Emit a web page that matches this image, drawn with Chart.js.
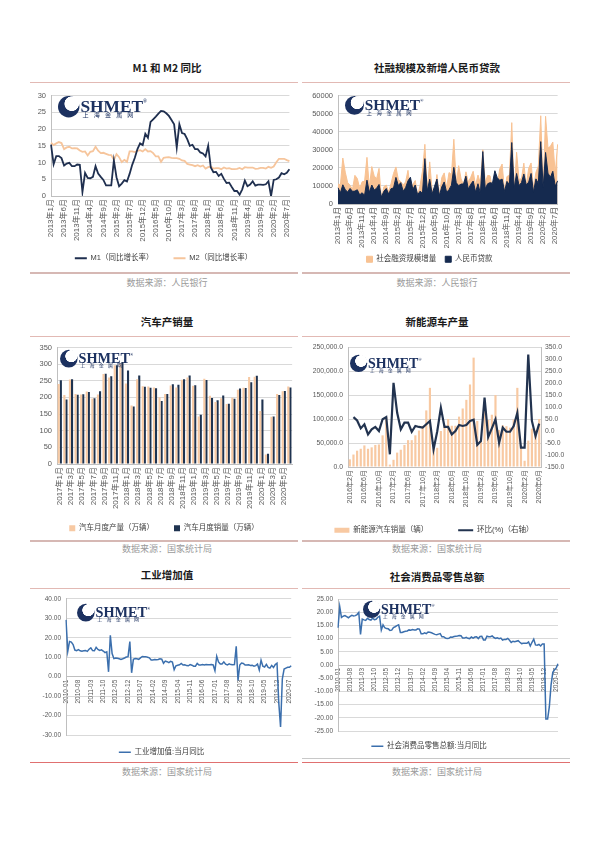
<!DOCTYPE html>
<html>
<head>
<meta charset="utf-8">
<script src="https://cdn.jsdelivr.net/npm/chart.js@4.4.0/dist/chart.umd.min.js"></script>
<style>
  body { margin: 0; background: #fff; font-family: "Liberation Sans", "Noto Sans CJK SC", sans-serif; }
  #page { position: relative; width: 600px; height: 848px; overflow: hidden; }
  .title { position: absolute; width: 270px; text-align: center; font: bold 10.5px/14px "Noto Sans CJK SC", sans-serif; color: #1a1a1a; }
  .src { position: absolute; width: 270px; text-align: center; font: 9px/12px "Noto Sans CJK SC", sans-serif; color: #9a9a9a; }
  .rule { position: absolute; }
  .box { position: absolute; }
  .logo { position: absolute; width: 84px; height: 24px; transform-origin: 0 0; pointer-events: none; }
  .logo .ball { position: absolute; left: 0; top: 1px; width: 21px; height: 21px; border-radius: 50%;
    background: radial-gradient(circle at 64% 36%, #fff 0 36%, #1c3160 39%); }
  .logo .word { position: absolute; left: 22px; top: -3px; font: bold 17px/20px "Liberation Serif", serif; color: #1c3160; }
  .logo .word sup { font-size: 5px; vertical-align: 9px; }
  .logo .sub { position: absolute; left: 24px; top: 16px; font: 6px/7px "Noto Sans CJK SC", sans-serif; color: #1c3160; letter-spacing: 5px; }
</style>
</head>
<body>
<div id="page">
  <div class="title" style="left:32px;top:61px">M1 和 M2 同比</div>
  <div class="title" style="left:302px;top:61px">社融规模及新增人民币贷款</div>
  <div class="title" style="left:32px;top:315px">汽车产销量</div>
  <div class="title" style="left:302px;top:315px">新能源车产量</div>
  <div class="title" style="left:32px;top:568px">工业增加值</div>
  <div class="title" style="left:302px;top:570px">社会消费品零售总额</div>

  <div class="rule" style="left:30px;top:82px;width:268px;height:1px;background:#e2b9b4"></div>
  <div class="rule" style="left:302px;top:82px;width:268px;height:1px;background:#e2b9b4"></div>
  <div class="rule" style="left:30px;top:272px;width:268px;height:2px;background:#d6b8b4"></div>
  <div class="rule" style="left:302px;top:272px;width:268px;height:2px;background:#d6b8b4"></div>
  <div class="rule" style="left:30px;top:336px;width:268px;height:1px;background:#e2b9b4"></div>
  <div class="rule" style="left:302px;top:336px;width:268px;height:1px;background:#e2b9b4"></div>
  <div class="rule" style="left:30px;top:540px;width:268px;height:2px;background:#d6b8b4"></div>
  <div class="rule" style="left:302px;top:540px;width:268px;height:2px;background:#d6b8b4"></div>
  <div class="rule" style="left:30px;top:588px;width:268px;height:1px;background:#e2b9b4"></div>
  <div class="rule" style="left:302px;top:588px;width:268px;height:1px;background:#e2b9b4"></div>
  <div class="rule" style="left:302px;top:758px;width:268px;height:1px;background:#c8c8c8"></div>
  <div class="rule" style="left:30px;top:762px;width:268px;height:1px;background:#e07070"></div>
  <div class="rule" style="left:302px;top:762px;width:268px;height:1px;background:#e07070"></div>

  <div class="src" style="left:32px;top:277px">数据来源：人民银行</div>
  <div class="src" style="left:302px;top:277px">数据来源：人民银行</div>
  <div class="src" style="left:32px;top:543px">数据来源：国家统计局</div>
  <div class="src" style="left:302px;top:543px">数据来源：国家统计局</div>
  <div class="src" style="left:32px;top:766px">数据来源：国家统计局</div>
  <div class="src" style="left:302px;top:766px">数据来源：国家统计局</div>

  <div class="box" style="left:30px;top:86px;width:272px;height:190px"><canvas id="c1"></canvas></div>
  <div class="box" style="left:300px;top:86px;width:270px;height:190px"><canvas id="c2"></canvas></div>
  <div class="box" style="left:30px;top:338px;width:272px;height:205px"><canvas id="c3"></canvas></div>
  <div class="box" style="left:300px;top:338px;width:270px;height:206px"><canvas id="c4"></canvas></div>
  <div class="box" style="left:30px;top:590px;width:272px;height:178px"><canvas id="c5"></canvas></div>
  <div class="box" style="left:300px;top:590px;width:270px;height:178px"><canvas id="c6"></canvas></div>
</div>
<script>
// month labels for the category axes
function months(y0, m0, y1, m1, iso) {
  const out = [];
  for (let y = y0, m = m0; y < y1 || (y === y1 && m <= m1); m === 12 ? (y++, m = 1) : m++) {
    out.push(iso ? y + '-' + String(m).padStart(2, '0') : y + '年' + m + '月');
  }
  return out;
}

// M1 / M2 同比 (%), 2013-01 .. 2020-08
const moneyMonths = months(2013, 1, 2020, 8);
const m1Yoy = [
  15.3, 9.5, 11.9, 11.9, 11.3, 9.1, 9.7, 9.9, 8.9, 8.9, 9.4, 9.3,
  1.2, 6.9, 5.4, 5.3, 5.7, 8.9, 6.7, 5.7, 4.8, 3.2, 3.2, 3.2,
  10.6, 5.6, 2.9, 3.7, 4.7, 4.3, 6.6, 9.3, 11.4, 14.0, 15.7, 15.2,
  18.6, 17.4, 22.1, 22.9, 23.7, 24.6, 25.4, 25.3, 24.7, 23.9, 22.7, 21.4,
  14.5, 21.4, 18.8, 18.5, 17.0, 15.0, 15.3, 14.0, 14.0, 13.0, 12.7, 11.8,
  15.0, 8.5, 7.1, 7.2, 6.0, 6.6, 5.1, 3.9, 4.0, 2.7, 1.5, 1.5,
  0.4, 2.0, 4.6, 2.9, 3.4, 4.4, 3.1, 3.4, 3.4, 3.3, 3.5, 4.4,
  0.0, 4.8, 5.0, 5.5, 6.8, 6.5, 6.9, 8.0
];
const m2Yoy = [
  15.9, 15.2, 15.7, 16.1, 15.8, 14.0, 14.5, 14.7, 14.2, 14.3, 14.2, 13.6,
  13.2, 13.3, 12.1, 13.2, 13.4, 14.7, 13.5, 12.8, 12.9, 12.6, 12.3, 12.2,
  10.8, 12.5, 11.6, 10.1, 10.8, 10.2, 13.3, 13.3, 13.1, 13.5, 13.7, 13.3,
  14.0, 13.3, 13.4, 12.8, 11.8, 11.8, 10.2, 11.4, 11.5, 11.6, 11.4, 11.3,
  11.3, 11.1, 10.6, 10.5, 9.6, 9.4, 9.2, 8.9, 9.2, 8.8, 9.1, 8.2,
  8.6, 8.8, 8.2, 8.3, 8.3, 8.0, 8.5, 8.2, 8.3, 8.0, 8.0, 8.1,
  8.4, 8.0, 8.6, 8.5, 8.5, 8.5, 8.1, 8.2, 8.4, 8.4, 8.2, 8.7,
  8.4, 8.8, 10.1, 11.1, 11.1, 11.1, 10.7, 10.4
];

// 社融增量 / 新增人民币贷款 (亿元), same months
const tsfFlow = [
  11000, 10705, 25445, 17629, 11856, 10375, 8191, 15841, 14120, 8645, 12310, 12532,
  25800, 9387, 20700, 15500, 14000, 19700, 2731, 9577, 10500, 6635, 11459, 16900,
  20500, 13600, 12400, 10500, 12200, 18600, 7188, 10800, 13000, 4767, 10200, 18200,
  33000, 7802, 23300, 7510, 6599, 16300, 4879, 14700, 17200, 8963, 17400, 16300,
  35800, 11500, 21200, 13900, 10600, 17800, 12200, 14800, 18100, 10400, 16000, 11400,
  30000, 11700, 15800, 15600, 7608, 11800, 10400, 19400, 22100, 7288, 15200, 15900,
  45000, 7030, 28600, 13600, 14000, 22600, 10100, 19800, 22700, 8771, 17500, 21000,
  48800, 8554, 48500, 30900, 31900, 34300, 16900, 33000
];
const rmbLoans = [
  9000, 6200, 10625, 7929, 6674, 8605, 6999, 7135, 7870, 5061, 6246, 4825,
  13200, 6445, 10500, 7747, 8708, 10800, 3852, 7025, 8572, 5483, 8527, 8834,
  14700, 10200, 11800, 7079, 9008, 12800, 14800, 8096, 10500, 5136, 7089, 5978,
  25100, 7266, 13700, 5556, 9855, 13800, 4636, 9487, 12200, 6513, 7946, 10400,
  20300, 11700, 10200, 11000, 11100, 15400, 8255, 10900, 12700, 6632, 11200, 5844,
  29000, 8393, 11200, 11800, 11500, 18400, 14500, 13100, 13800, 6970, 12500, 10800,
  34000, 8858, 16900, 10200, 11800, 16600, 10600, 12100, 16900, 6613, 13900, 11400,
  34500, 9057, 28500, 17000, 14800, 18100, 9927, 12800
];

// 汽车月度产量 / 销量 (万辆), 2017-01 .. 2020-06
const carMonths = months(2017, 1, 2020, 6);
const carOutput = [
  240.6, 207.6, 254.2, 210.3, 208.7, 218.0, 196.6, 209.1, 270.6, 260.1, 296.7, 302.2,
  241.8, 175.8, 254.5, 233.9, 233.2, 229.5, 200.6, 210.6, 235.8, 229.5, 253.0, 259.6,
  235.0, 142.7, 255.8, 205.2, 186.3, 197.6, 180.3, 199.2, 223.4, 229.1, 261.6, 262.2,
  159.5, 28.5, 142.2, 210.2, 218.7, 232.5
];
const carSales = [
  251.5, 193.9, 254.4, 208.4, 209.6, 216.6, 197.3, 218.6, 271.3, 263.9, 296.5, 306.2,
  281.0, 172.5, 265.6, 231.9, 228.8, 227.4, 188.9, 210.3, 239.4, 238.0, 254.8, 266.1,
  236.7, 148.2, 252.0, 198.0, 191.3, 205.6, 180.8, 195.8, 227.1, 228.4, 245.9, 265.5,
  194.1, 31.0, 143.0, 207.0, 219.4, 230.0
];

// 新能源汽车 (辆) and 环比 (%), 2016-02 .. 2020-06
const nevMonths = months(2016, 2, 2020, 6);
const nevSales = [
  16000, 26000, 34000, 38000, 45000, 38000, 41000, 46000, 47000, 66000, 104000,
  5000, 15000, 30000, 36000, 46000, 56000, 56000, 66000, 76000, 86000, 118000, 165000,
  40000, 40000, 75000, 88000, 100000, 86000, 86000, 105000, 122000, 140000, 172000, 228000,
  96000, 56000, 130000, 98000, 109000, 150000, 77000, 87000, 85000, 82000, 99000, 165000,
  45000, 13000, 55000, 80000, 76000, 100000
];
const nevMoM = [
  null, 58, 44, 11, 28, -14, 7, 17, 0, 49, 58,
  -97, 201, 76, 7, 35, 35, -3, 21, 17, 14, 28, 42,
  -76, -2, 97, 17, 17, -14, 0, 25, 21, 25, 42, 47,
  -58, -42, 139, -25, 11, 49, -49, 14, -3, -3, 21, 76,
  -69, -69, 319, 42, -21, 31
];

// 工业增加值 / 社零 当月同比 (%), 2010-01 .. 2020-08
const macroMonths = months(2010, 1, 2020, 8, true);
const ivaYoy = [
  29.2, 13.0, 18.1, 17.8, 16.5, 13.7, 13.4, 13.9, 13.3, 13.1, 13.3, 13.5,
  13.0, 14.1, 14.8, 13.4, 13.3, 15.1, 14.0, 13.5, 13.8, 13.2, 12.4, 12.8,
  2.5, 21.3, 11.9, 9.3, 9.6, 9.5, 9.2, 8.9, 9.2, 9.6, 10.1, 10.3,
  18.1, 2.0, 8.9, 9.3, 9.2, 8.9, 9.7, 10.4, 10.2, 10.3, 10.0, 9.7,
  8.6, 8.6, 8.8, 8.7, 8.8, 9.2, 9.0, 6.9, 8.0, 7.7, 7.2, 7.9,
  7.5, 3.6, 5.6, 5.9, 6.1, 6.8, 6.0, 6.1, 5.7, 5.6, 6.2, 5.9,
  5.4, 5.4, 6.8, 6.0, 6.0, 6.2, 6.0, 6.3, 6.1, 6.1, 6.2, 6.0,
  3.1, 10.5, 7.6, 6.5, 6.5, 7.6, 6.4, 6.0, 6.6, 6.2, 6.1, 6.2,
  15.6, -1.9, 6.0, 7.0, 6.8, 6.0, 6.0, 6.1, 5.8, 5.9, 5.4, 5.7,
  6.5, 3.4, 8.5, 5.4, 5.0, 6.3, 4.8, 4.4, 5.8, 4.7, 6.2, 6.9,
  -13.5, -25.9, -1.1, 3.9, 4.4, 4.8, 4.8, 5.6
];
const retailYoy = [
  14.1, 22.1, 18.0, 18.5, 18.7, 18.3, 17.9, 18.4, 18.8, 18.6, 18.7, 19.1,
  19.9, 11.6, 17.4, 17.1, 16.9, 17.7, 17.2, 17.0, 17.7, 17.2, 17.3, 18.1,
  18.5, 13.2, 15.2, 14.1, 13.8, 13.7, 13.1, 13.2, 14.2, 14.5, 14.9, 15.2,
  12.3, 12.3, 12.6, 12.8, 12.9, 13.3, 13.2, 13.4, 13.3, 13.3, 13.7, 13.6,
  11.8, 11.8, 12.2, 11.9, 12.5, 12.4, 12.2, 11.9, 11.6, 11.5, 11.7, 11.9,
  10.7, 10.7, 10.2, 10.0, 10.1, 10.6, 10.5, 10.8, 10.9, 11.0, 11.2, 11.1,
  10.2, 10.2, 10.5, 10.1, 10.0, 10.6, 10.2, 10.6, 10.7, 10.0, 10.8, 10.9,
  9.5, 9.5, 10.9, 10.7, 10.7, 11.0, 10.4, 10.1, 10.3, 10.0, 10.2, 9.4,
  9.7, 9.7, 10.1, 9.4, 8.5, 9.0, 8.8, 9.0, 9.2, 8.6, 8.1, 8.2,
  8.2, 8.2, 8.7, 7.2, 8.6, 9.8, 7.6, 7.5, 7.8, 7.2, 8.0, 8.0,
  -20.5, -20.5, -15.8, -7.5, -2.8, -1.8, -1.1, 0.5
];

Chart.defaults.font.family = '"Liberation Sans", "Noto Sans CJK SC", sans-serif';
Chart.defaults.animation = false;
Chart.defaults.plugins.tooltip.enabled = false;

const tickColor = '#595959', gridColor = '#d9d9d9', axisColor = '#bfbfbf';
const navy = '#1f2f4f', peach = '#f6c59c', blue = '#3b6fad';

function xAxis(every, height, size) {
  return {
    grid: { display: false, drawTicks: false },
    border: { display: true, color: axisColor },
    ticks: {
      autoSkip: false, maxRotation: 90, minRotation: 90, padding: 3,
      color: tickColor, font: { size: size },
      callback(v, i) { return i % every === 0 ? this.getLabelForValue(v) : ''; }
    },
    afterFit(s) {
      s.height = height;
      // the rotated labels are longer than the box; don't clip them to it
      s._computeLabelArea = () => undefined;
    }
  };
}
function yAxis(min, max, step, width, fmt, size) {
  return {
    min: min, max: max,
    grid: { color: gridColor, drawTicks: false },
    border: { display: true, color: axisColor },
    ticks: { stepSize: step, padding: 5, color: tickColor, font: { size: size }, callback: fmt },
    afterFit(s) { s.width = width; }
  };
}
function legend(labels) {
  return {
    position: 'bottom',
    labels: Object.assign({ color: '#404040', font: { size: 7.5 } }, labels)
  };
}
const bySet = (a, b) => a.datasetIndex - b.datasetIndex;

// M1 和 M2 同比
new Chart(document.getElementById('c1'), {
  type: 'line',
  data: {
    labels: moneyMonths,
    datasets: [
      { label: 'M1（同比增长率）', data: m1Yoy, borderColor: navy, backgroundColor: navy, borderWidth: 1.8, pointRadius: 0 },
      { label: 'M2（同比增长率）', data: m2Yoy, borderColor: peach, backgroundColor: peach, borderWidth: 1.8, pointRadius: 0 }
    ]
  },
  options: {
    responsive: true, maintainAspectRatio: false,
    layout: { padding: { left: 0, right: 5, top: 7, bottom: 4 } },
    scales: {
      x: xAxis(5, 38.5, 8),
      y: yAxis(0, 30, 5, 21, v => v, 7.5)
    },
    plugins: { legend: legend({ usePointStyle: true, pointStyle: 'line', pointStyleWidth: 12, padding: 20 }) }
  }
});

// 社融规模及新增人民币贷款
new Chart(document.getElementById('c2'), {
  type: 'line',
  data: {
    labels: moneyMonths,
    datasets: [
      { label: '社会融资规模增量', data: tsfFlow, fill: 'origin', order: 2,
        backgroundColor: '#f8c293', borderColor: '#f8c293', borderWidth: 1, pointRadius: 0 },
      { label: '人民币贷款', data: rmbLoans, fill: 'origin', order: 1,
        backgroundColor: '#152a4f', borderColor: '#152a4f', borderWidth: 1, pointRadius: 0 }
    ]
  },
  options: {
    responsive: true, maintainAspectRatio: false,
    layout: { padding: { left: 0, right: 11, top: 5, bottom: 3 } },
    scales: {
      x: xAxis(5, 42.5, 7.8),
      y: yAxis(0, 60000, 10000, 38, v => v, 7.5)
    },
    plugins: { legend: legend({ boxWidth: 6, boxHeight: 6, padding: 9, sort: bySet }) }
  }
});

// 汽车产销量
new Chart(document.getElementById('c3'), {
  type: 'bar',
  data: {
    labels: carMonths,
    datasets: [
      { label: '汽车月度产量（万辆）', data: carOutput, backgroundColor: '#f7c9a3', barPercentage: 1, categoryPercentage: 0.75 },
      { label: '汽车月度销量（万辆）', data: carSales, backgroundColor: '#1f3350', barPercentage: 1, categoryPercentage: 0.75 }
    ]
  },
  options: {
    responsive: true, maintainAspectRatio: false,
    layout: { padding: { left: 0, right: 4, top: 6, bottom: 1 } },
    scales: {
      x: xAxis(2, 40.5, 8),
      y: yAxis(0, 350, 50, 27, v => v, 7.5)
    },
    plugins: { legend: legend({ boxWidth: 6, boxHeight: 6, padding: 20 }) }
  }
});

// 新能源车产量
new Chart(document.getElementById('c4'), {
  type: 'bar',
  data: {
    labels: nevMonths,
    datasets: [
      { type: 'bar', label: '新能源汽车销量（辆）', data: nevSales, yAxisID: 'y', order: 2,
        backgroundColor: '#f8c9a2', borderWidth: 0, pointStyle: 'rect', barPercentage: 0.6, categoryPercentage: 1 },
      { type: 'line', label: '环比(%)（右轴）', data: nevMoM, yAxisID: 'y1', order: 1,
        borderColor: '#22334f', backgroundColor: '#22334f', borderWidth: 2.2, pointRadius: 0, pointStyle: 'line' }
    ]
  },
  options: {
    responsive: true, maintainAspectRatio: false,
    layout: { padding: { left: 0, right: 2, top: 8, bottom: 0 } },
    scales: {
      x: xAxis(4, 29.5, 7),
      y: yAxis(0, 250000, 50000, 48,
        v => v.toLocaleString('en-US', { minimumFractionDigits: 1, maximumFractionDigits: 1 }), 6.8),
      y1: {
        position: 'right', min: -150, max: 350,
        grid: { display: false, drawTicks: false },
        border: { display: true, color: axisColor },
        ticks: { stepSize: 50, padding: 4, color: tickColor, font: { size: 6.8 }, callback: v => v.toFixed(1) },
        afterFit(s) { s.width = 27; }
      }
    },
    plugins: { legend: legend({ usePointStyle: true, pointStyleWidth: 15, boxHeight: 5, padding: 30, sort: bySet }) }
  }
});

// 工业增加值
const macroX = (every) => Object.assign(xAxis(every, 0, 6.5), { position: { y: 0 } });
new Chart(document.getElementById('c5'), {
  type: 'line',
  data: {
    labels: macroMonths,
    datasets: [
      { label: '工业增加值:当月同比', data: ivaYoy, borderColor: blue, backgroundColor: blue, borderWidth: 1.5, pointRadius: 0 }
    ]
  },
  options: {
    responsive: true, maintainAspectRatio: false,
    layout: { padding: { left: 0, right: 9, top: 7, bottom: 2 } },
    scales: {
      x: macroX(7),
      y: yAxis(-30, 40, 10, 36, v => v.toFixed(2), 6.5)
    },
    plugins: { legend: legend({ usePointStyle: true, pointStyle: 'line', pointStyleWidth: 12, padding: 13.5 }) }
  }
});

// 社会消费品零售总额
new Chart(document.getElementById('c6'), {
  type: 'line',
  data: {
    labels: macroMonths,
    datasets: [
      { label: '社会消费品零售总额:当月同比', data: retailYoy, borderColor: blue, backgroundColor: blue, borderWidth: 1.5, pointRadius: 0 }
    ]
  },
  options: {
    responsive: true, maintainAspectRatio: false,
    layout: { padding: { left: 0, right: 12, top: 9, bottom: 8 } },
    scales: {
      x: macroX(7),
      y: yAxis(-25, 25, 5, 38, v => v.toFixed(2), 6.5)
    },
    plugins: { legend: legend({ usePointStyle: true, pointStyle: 'line', pointStyleWidth: 12, padding: 11.5 }) }
  }
});

// SHMET watermark
function addLogo(x, y, k) {
  const d = document.createElement('div');
  d.className = 'logo';
  d.style.left = x + 'px';
  d.style.top = y + 'px';
  d.style.transform = 'scale(' + k + ')';
  d.innerHTML = '<div class="ball"></div><div class="word">SHMET<sup>®</sup></div><div class="sub">上海金属网</div>';
  document.getElementById('page').appendChild(d);
}
addLogo(58, 95, 1.02);
addLogo(345, 95, 0.9);
addLogo(60, 349, 0.84);
addLogo(350, 354, 0.82);
addLogo(77, 603, 0.84);
addLogo(363, 600, 0.82);
</script>
</body>
</html>
